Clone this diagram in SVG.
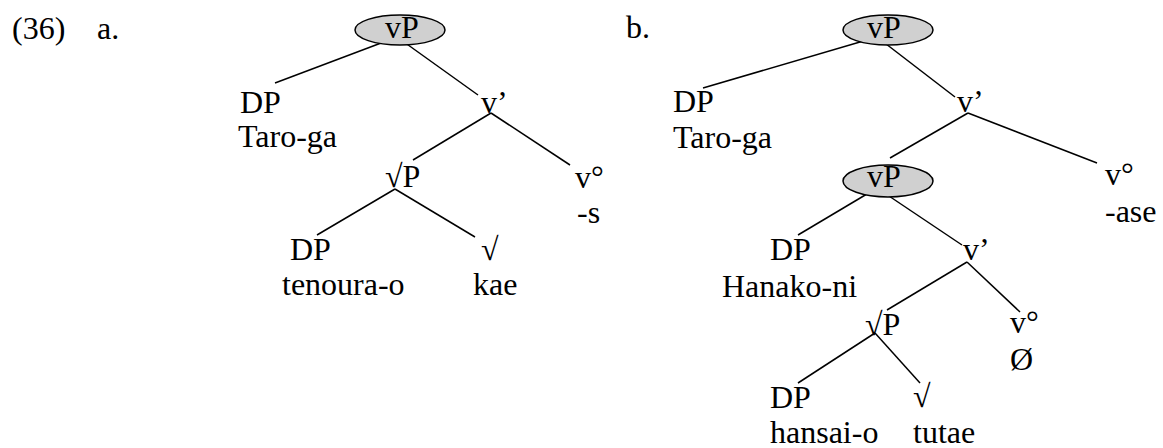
<svg xmlns="http://www.w3.org/2000/svg" width="1163" height="448" viewBox="0 0 1163 448" font-family="'Liberation Serif', 'Times New Roman', Times, serif" font-size="32">
<style>
text{font-family:'Liberation Serif','Times New Roman',Times,serif;font-size:32px;fill:#000}
.e{fill:#d0d0d0;stroke:#000;stroke-width:1.5}
.c line{stroke:#000;stroke-width:1.5;fill:none}
</style>
<rect width="1163" height="448" fill="#fff"/>
<g id="labels">
<text x="12" y="39">(36)</text>
<text x="97" y="39">a.</text>
<text x="626" y="38">b.</text>
</g>
<g class="c" id="connectors">
<line x1="397" y1="37" x2="275" y2="83"/>
<line x1="397" y1="37" x2="478" y2="95"/>
<line x1="491" y1="113" x2="413" y2="160"/>
<line x1="491" y1="113" x2="570" y2="165"/>
<line x1="395" y1="189" x2="317" y2="235"/>
<line x1="395" y1="189" x2="475" y2="237"/>
<line x1="877" y1="37" x2="703" y2="88"/>
<line x1="877" y1="37" x2="955" y2="97"/>
<line x1="968" y1="113" x2="890" y2="158"/>
<line x1="968" y1="113" x2="1097" y2="163"/>
<line x1="877" y1="188" x2="798" y2="235"/>
<line x1="877" y1="188" x2="962" y2="245"/>
<line x1="967" y1="262" x2="887" y2="310"/>
<line x1="967" y1="262" x2="1020" y2="312"/>
<line x1="875" y1="333" x2="798" y2="383"/>
<line x1="875" y1="333" x2="920" y2="383"/>
</g>
<g id="a-vP"><ellipse class="e" cx="400" cy="30" rx="45" ry="15"/><text x="385" y="38">vP</text></g>
<g id="a-DP"><text x="240" y="113">DP</text><text x="238" y="147">Taro-ga</text></g>
<g id="a-vbar"><text x="481" y="113">v’</text></g>
<g id="a-rootP"><text x="385" y="187">√P</text></g>
<g id="a-v0"><text x="575" y="188">v°</text><text x="577" y="223">-s</text></g>
<g id="a-DP2"><text x="290" y="260">DP</text><text x="282" y="295">tenoura-o</text></g>
<g id="a-root"><text x="481" y="260">√</text><text x="473" y="295">kae</text></g>
<g id="b-vP"><ellipse class="e" cx="888" cy="30" rx="45" ry="15"/><text x="867" y="38">vP</text></g>
<g id="b-DP"><text x="673" y="112">DP</text><text x="673" y="148">Taro-ga</text></g>
<g id="b-vbar"><text x="957" y="112">v’</text></g>
<g id="b-v0"><text x="1105" y="185">v°</text><text x="1105" y="222">-ase</text></g>
<g id="b-vP2"><ellipse class="e" cx="888" cy="181" rx="45" ry="16"/><text x="867" y="187">vP</text></g>
<g id="b-DP2"><text x="770" y="260">DP</text><text x="722" y="297">Hanako-ni</text></g>
<g id="b-vbar2"><text x="963" y="260">v’</text></g>
<g id="b-rootP"><text x="865" y="335">√P</text></g>
<g id="b-v02"><text x="1010" y="333">v°</text><text x="1010" y="370">Ø</text></g>
<g id="b-DP3"><text x="770" y="408">DP</text><text x="770" y="443">hansai-o</text></g>
<g id="b-root"><text x="913" y="407">√</text><text x="913" y="443">tutae</text></g>
</svg>
